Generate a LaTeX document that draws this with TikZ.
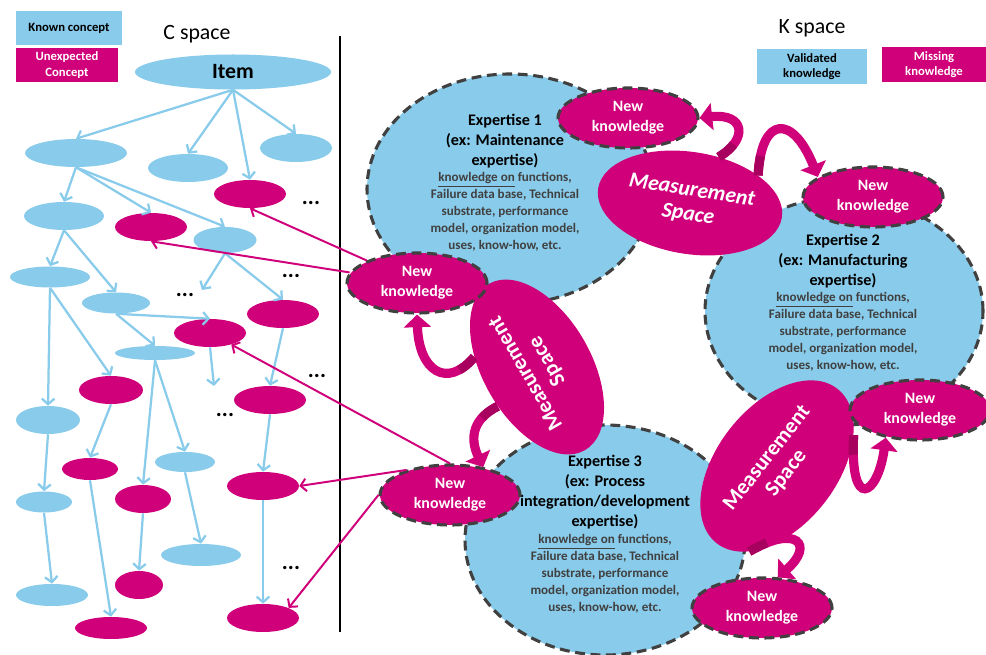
\documentclass[tikz,border=0pt]{standalone}
\usepackage{fontspec}
\setmainfont{Carlito}
\usepackage{xcolor}
\definecolor{knownBlue}{HTML}{89CBEA}
\definecolor{missMagenta}{HTML}{D0007A}
\definecolor{ribbonDark}{HTML}{A8005F}
\definecolor{borderGray}{HTML}{404040}
\usetikzlibrary{arrows.meta,shapes.geometric,positioning}

\newcommand{\px}{0.025cm}

\tikzset{
  cnode/.style 2 args={ellipse, inner sep=0pt, minimum width=#1*\px, minimum height=#2*\px},
  known/.style={fill=knownBlue, draw=none},
  unexp/.style={fill=missMagenta, draw=none},
  tree/.style={draw=knownBlue, line width=1.6pt, -{Straight Barb[length=4pt,width=9pt]}},
  mlink/.style={draw=missMagenta, line width=1.4pt, -{Straight Barb[length=4pt,width=9pt]}},
  legbox/.style={rectangle, inner sep=0pt, align=center, font=\bfseries\fontsize{9}{10.8}\selectfont},
  expcircle/.style={fill=knownBlue, draw=borderGray, line width=2.2pt, dash pattern=on 7pt off 4pt},
  exptitle/.style={align=center, inner sep=0pt, font=\bfseries\fontsize{11.5}{14.2}\selectfont},
  expbody/.style={align=center, inner sep=0pt, text=borderGray, font=\bfseries\fontsize{9.3}{12.1}\selectfont},
  nknode/.style={cnode={140}{60}, fill=missMagenta, draw=borderGray, line width=2.2pt,
    dash pattern=on 7pt off 4pt, text=white, align=center, font=\bfseries\fontsize{11.3}{14.2}\selectfont},
  msnode/.style={ellipse, inner sep=0pt, fill=missMagenta, text=white, align=center,
    font=\bfseries\fontsize{15.5}{17.5}\selectfont},
  fatarrow/.style={draw=missMagenta, line width=6.5pt, -{Triangle[length=9pt,width=19pt]},
    postaction={draw=ribbonDark, -, dash pattern=on 14pt off 2000pt}},
  ellipsisnode/.style={inner sep=0pt, font=\bfseries\fontsize{16}{16}\selectfont}
}

\begin{document}
\begin{tikzpicture}[x=\px, y=-\px]
  \useasboundingbox (0,0) rectangle (986,655);

  \node[legbox, fill=knownBlue, minimum width=106*\px, minimum height=34*\px] (legKnown) at (69,28) {Known concept};
  \node[legbox, fill=missMagenta, text=white, minimum width=102*\px, minimum height=34*\px] (legUnexp) at (67,65) {Unexpected\\Concept};
  \node[legbox, fill=knownBlue, minimum width=110*\px, minimum height=35*\px] (legValid) at (812,67) {Validated\\knowledge};
  \node[legbox, fill=missMagenta, text=white, minimum width=104*\px, minimum height=35*\px] (legMissing) at (934,65) {Missing\\knowledge};
  \node[font=\fontsize{15.5}{18}\selectfont] (cspace) at (197,34) {C space};
  \node[font=\fontsize{15.5}{18}\selectfont] (kspace) at (812,28) {K space};
  \draw[line width=1.5pt] (340,36) -- (340,632);

  \node[cnode={196}{35}, known, font=\bfseries\fontsize{15.5}{18}\selectfont] (item) at (233,72) {Item};
  \node[cnode={102}{28}, known] (cA) at (76,153) {};
  \node[cnode={80}{28}, known] (cB) at (188,168) {};
  \node[cnode={72}{28}, known] (cC) at (296,148) {};
  \node[cnode={72}{28}, unexp] (cD) at (250,194) {};
  \node[cnode={80}{28}, known] (cE) at (64,216) {};
  \node[cnode={72}{28}, unexp] (cF) at (151,227) {};
  \node[cnode={63}{26}, known] (cG) at (225,240) {};
  \node[cnode={80}{21}, known] (cH) at (50,277) {};
  \node[cnode={68}{21}, known] (cI) at (116,303) {};
  \node[cnode={72}{28}, unexp] (cJ) at (283,314) {};
  \node[cnode={72}{28}, unexp] (cK) at (210,333) {};
  \node[cnode={80}{14}, known] (cL) at (155,353) {};
  \node[cnode={64}{28}, unexp] (cM) at (111,390) {};
  \node[cnode={72}{28}, unexp] (cN) at (270,400) {};
  \node[cnode={64}{28}, known] (cO) at (48,420) {};
  \node[cnode={56}{22}, unexp] (cP) at (90,469) {};
  \node[cnode={60}{20}, known] (cQ) at (185,462) {};
  \node[cnode={72}{28}, unexp] (cR) at (263,486) {};
  \node[cnode={56}{28}, unexp] (cS) at (143,499) {};
  \node[cnode={56}{21}, known] (cT) at (44,502) {};
  \node[cnode={80}{22}, known] (cU) at (201,555) {};
  \node[cnode={48}{28}, unexp] (cV) at (139,585) {};
  \node[cnode={72}{22}, known] (cW) at (52,595) {};
  \node[cnode={72}{22}, unexp] (cX) at (111,628) {};
  \node[cnode={72}{28}, unexp] (cY) at (263,618) {};
  \coordinate (gOpen) at (202,290);
  \coordinate (kOpen) at (214,386);

  \node[ellipsisnode] (dots1) at (311,203) {...};
  \node[ellipsisnode] (dots2) at (291,276) {...};
  \node[ellipsisnode] (dots3) at (185,295) {...};
  \node[ellipsisnode] (dots4) at (317,376) {...};
  \node[ellipsisnode] (dots5) at (225,415) {...};
  \node[ellipsisnode] (dots6) at (291,568) {...};

  \draw[tree] (item.south) -- (cA.north);
  \draw[tree] (item.south) -- (cB.north);
  \draw[tree] (item.south) -- (cD.north);
  \draw[tree] (item.south) -- (cC.north);
  \draw[tree] (cA.south) -- (cE.north);
  \draw[tree] (cA.south) -- (cF.north);
  \draw[tree] (cA.south) -- (cG.north);
  \draw[tree] (cE.south) -- (cH.north);
  \draw[tree] (cE.south) -- (cI.north);
  \draw[tree] (cG.south) -- (gOpen);
  \draw[tree] (cG.south) -- (cJ.north);
  \draw[tree] (cH.south) -- (cO.north);
  \draw[tree] (cH.south) -- (cM.north);
  \draw[tree] (cI.south) -- (cK.north);
  \draw[tree] (cI.south) -- (cL.north);
  \draw[tree] (cK.south) -- (kOpen);
  \draw[tree] (cL.south) -- (cS.north);
  \draw[tree] (cL.south) -- (cQ.north);
  \draw[tree] (cM.south) -- (cP.north);
  \draw[tree] (cP.south) -- (cX.north);
  \draw[tree] (cO.south) -- (cT.north);
  \draw[tree] (cT.south) -- (cW.north);
  \draw[tree] (cS.south) -- (cV.north);
  \draw[tree] (cQ.south) -- (cU.north);
  \draw[tree] (cJ.south) -- (cN.north);
  \draw[tree] (cN.south) -- (cR.north);
  \draw[tree] (cR.south) -- (cY.north);

  \node[cnode={286}{230}, expcircle] (exp1) at (510,189) {};
  \node[cnode={278}{228}, expcircle] (exp2) at (844,311) {};
  \node[cnode={280}{230}, expcircle] (exp3) at (605,540) {};

  \node[exptitle] (exp1title) at (505,141) {Expertise 1\\(ex: Maintenance\\expertise)};
  \node[expbody] (exp1body) at (505,212) {\underline{knowledge on} functions,\\Failure data base, Technical\\substrate, performance\\model, organization model,\\uses, know-how, etc.};
  \node[exptitle] (exp2title) at (843,261) {Expertise 2\\(ex: Manufacturing\\expertise)};
  \node[expbody] (exp2body) at (843,332) {\underline{knowledge on} functions,\\Failure data base, Technical\\substrate, performance\\model, organization model,\\uses, know-how, etc.};
  \node[exptitle] (exp3title) at (605,492) {Expertise 3\\(ex: Process\\integration/development\\expertise)};
  \node[expbody] (exp3body) at (605,574) {\underline{knowledge on} functions,\\Failure data base, Technical\\substrate, performance\\model, organization model,\\uses, know-how, etc.};

  \node[msnode, minimum width=186*\px, minimum height=102*\px, rotate=-9,
    font=\bfseries\itshape\fontsize{15.5}{17.5}\selectfont] (ms1) at (690,203) {Measurement\\Space};
  \node[msnode, minimum width=192*\px, minimum height=108*\px, rotate=120] (ms2) at (537,367) {Measurement\\Space};
  \node[msnode, minimum width=196*\px, minimum height=120*\px, rotate=52] (ms3) at (777,466) {Measurement\\Space};

  \node[nknode] (nk1) at (628,118) {New\\knowledge};
  \node[nknode] (nkL) at (417,283) {New\\knowledge};
  \node[nknode] (nk2) at (873,197) {New\\knowledge};
  \node[nknode] (nk3) at (450,495) {New\\knowledge};
  \node[nknode] (nk4) at (920,410) {New\\knowledge};
  \node[nknode] (nk5) at (762,608) {New\\knowledge};

  \draw[mlink] (nkL) -- (cD.south);
  \draw[mlink] (nkL) -- (cF.south);
  \draw[mlink] (nk3.north) -- (cK);
  \draw[mlink] (nk3.150) -- (cR.east);
  \draw[mlink] (nk3.west) -- (cY.north east);

  \draw[fatarrow] (ms1.67) .. controls +(30,-18) and +(45,-5) .. (nk1.east);
  \draw[fatarrow] (ms1.31) .. controls +(3,-60) and +(-25,-63) .. (nk2.160);
  \draw[fatarrow] (ms2.51) .. controls +(-27,32) and +(2,57) .. (nkL.south);
  \draw[fatarrow] (ms2.105) .. controls +(-30,15) and +(-11,-23) .. (nk3.40);
  \draw[fatarrow] (ms3.-30) .. controls +(-4,78) and +(-8,58) .. (nk4.219);
  \draw[fatarrow] (ms3.200) .. controls +(48,-28) and +(37,-32) .. (nk5.63);
\end{tikzpicture}
\end{document}
